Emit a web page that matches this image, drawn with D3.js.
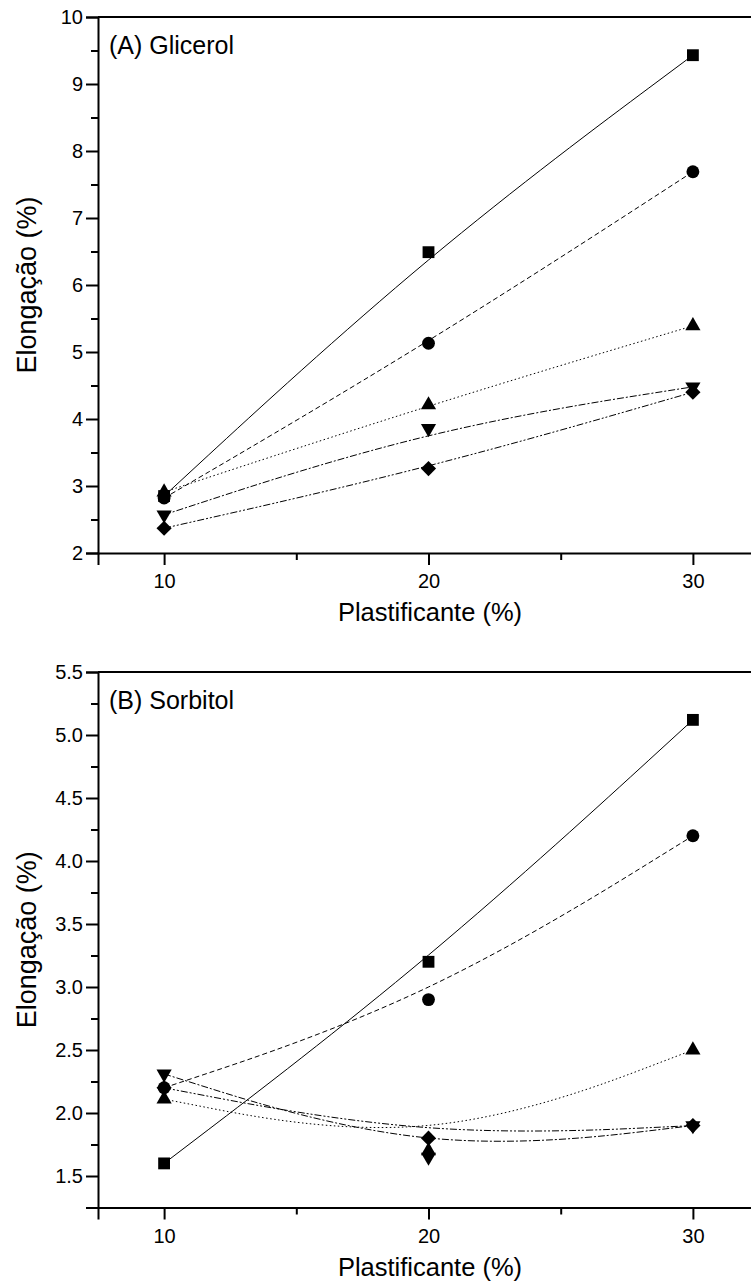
<!DOCTYPE html>
<html>
<head>
<meta charset="utf-8">
<script src="https://cdn.jsdelivr.net/npm/d3@7"></script>
<style>
  html, body { margin: 0; padding: 0; background: #fff; }
  svg { display: block; font-family: "Liberation Sans", Arial, sans-serif; }
</style>
</head>
<body>
<svg id="chart" width="751" height="1284"></svg>
<script>
// Plasticizer content (%)
const plastificante = [10, 20, 30];

// Panel A: glycerol — elongation (%) for each formulation
const glicerolQuadrado   = [2.85, 6.49, 9.43];
const glicerolCirculo    = [2.82, 5.13, 7.69];
const glicerolTriangulo  = [2.91, 4.21, 5.39];
const glicerolTrianguloI = [2.57, 3.86, 4.48];
const glicerolLosango    = [2.37, 3.26, 4.40];

// Panel B: sorbitol — elongation (%) for each formulation
const sorbitolQuadrado   = [1.60, 3.20, 5.12];
const sorbitolCirculo    = [2.20, 2.90, 4.20];
const sorbitolTriangulo  = [2.11, 1.70, 2.50];
const sorbitolTrianguloI = [2.31, 1.65, 1.90];
const sorbitolLosango    = [2.20, 1.80, 1.90];

const xTicks = [10, 20, 30];
const xMinorTicks = [15, 25];
const glicerolYTicks = [2, 3, 4, 5, 6, 7, 8, 9, 10];
const sorbitolYTicks = [1.5, 2.0, 2.5, 3.0, 3.5, 4.0, 4.5, 5.0, 5.5];

const xTitle = "Plastificante (%)";
const yTitle = "Elongação (%)";

// Series styles: marker and dash pattern
const styles = [
  { sym: d3.symbolSquare,   size: 140, rot: 0,   dash: null },
  { sym: d3.symbolCircle,   size: 130, rot: 0,   dash: "5,3" },
  { sym: d3.symbolTriangle, size: 100, rot: 0,   dash: "1.5,2.5" },
  { sym: d3.symbolTriangle, size: 100, rot: 180, dash: "7,2,2,2" },
  { sym: d3.symbolSquare,   size: 115, rot: 45,  dash: "7,2,2,2,2,2" }
];

const svg = d3.select("#chart");
const FONT = "Liberation Sans, Arial, sans-serif";

function panel(cfg) {
  const g = svg.append("g");
  const x = d3.scaleLinear().domain([7.5, 32.5]).range([98, 759]);
  const y = d3.scaleLinear().domain(cfg.yDomain).range(cfg.yRange);
  const [yb, yt] = cfg.yRange;

  // Top border of the frame
  g.append("line").attr("x1", x.range()[0]).attr("x2", x.range()[1])
    .attr("y1", yt).attr("y2", yt).attr("stroke", "#000").attr("stroke-width", 2);

  // X axis with major and minor ticks
  const xa = g.append("g").attr("transform", `translate(0,${yb})`)
    .call(d3.axisBottom(x).tickValues(xTicks).tickSize(12).tickPadding(9).tickFormat(d3.format("d")));
  xa.select(".domain").attr("stroke-width", 2);
  xa.selectAll(".tick line").attr("stroke-width", 2);
  xa.selectAll("text").attr("font-size", 20).attr("fill", "#000").attr("font-family", FONT);
  const xm = g.append("g").attr("transform", `translate(0,${yb})`)
    .call(d3.axisBottom(x).tickValues(xMinorTicks).tickSize(7).tickFormat(""));
  xm.select(".domain").remove();
  xm.selectAll(".tick line").attr("stroke-width", 2);

  // Y axis with major and minor ticks
  const ya = g.append("g").attr("transform", `translate(${x.range()[0]},0)`)
    .call(d3.axisLeft(y).tickValues(cfg.yTicks).tickSize(12).tickPadding(3).tickFormat(cfg.yFormat));
  ya.select(".domain").attr("stroke-width", 2);
  ya.selectAll(".tick line").attr("stroke-width", 2);
  ya.selectAll("text").attr("font-size", 20).attr("fill", "#000").attr("font-family", FONT);
  const minor = d3.range(cfg.yTicks.length - 1).map(i => (cfg.yTicks[i] + cfg.yTicks[i + 1]) / 2);
  const ym = g.append("g").attr("transform", `translate(${x.range()[0]},0)`)
    .call(d3.axisLeft(y).tickValues(minor).tickSize(7).tickFormat(""));
  ym.select(".domain").remove();
  ym.selectAll(".tick line").attr("stroke-width", 2);

  // Axis titles
  g.append("text").attr("x", 430).attr("y", yb + 68)
    .attr("text-anchor", "middle").attr("font-size", 25.5).text(xTitle);
  g.append("text")
    .attr("transform", `translate(36,${(yb + yt) / 2}) rotate(-90)`)
    .attr("text-anchor", "middle").attr("font-size", 27).text(yTitle);

  // Panel label
  g.append("text").attr("x", 109).attr("y", yt + 37)
    .attr("font-size", 25).text(cfg.label);

  // Smoothed connecting curves
  const line = d3.line().x((d, i) => x(plastificante[i])).y(d => y(d)).curve(d3.curveBasis);
  cfg.series.forEach((s, k) => {
    g.append("path").attr("d", line(s)).attr("fill", "none")
      .attr("stroke", "#000").attr("stroke-width", 1)
      .attr("stroke-dasharray", styles[k].dash);
  });

  // Markers
  cfg.series.forEach((s, k) => {
    const st = styles[k];
    const sym = d3.symbol().type(st.sym).size(st.size);
    g.selectAll(null).data(s).join("path")
      .attr("d", sym)
      .attr("transform", (d, i) => `translate(${x(plastificante[i])},${y(d)}) rotate(${st.rot})`)
      .attr("fill", "#000");
  });
}

panel({
  yDomain: [2, 10], yRange: [553, 17], yTicks: glicerolYTicks, yFormat: d3.format("d"),
  label: "(A) Glicerol",
  series: [glicerolQuadrado, glicerolCirculo, glicerolTriangulo, glicerolTrianguloI, glicerolLosango]
});

panel({
  yDomain: [1.25, 5.5], yRange: [1207.5, 672], yTicks: sorbitolYTicks, yFormat: d3.format(".1f"),
  label: "(B) Sorbitol",
  series: [sorbitolQuadrado, sorbitolCirculo, sorbitolTriangulo, sorbitolTrianguloI, sorbitolLosango]
});
</script>
</body>
</html>
